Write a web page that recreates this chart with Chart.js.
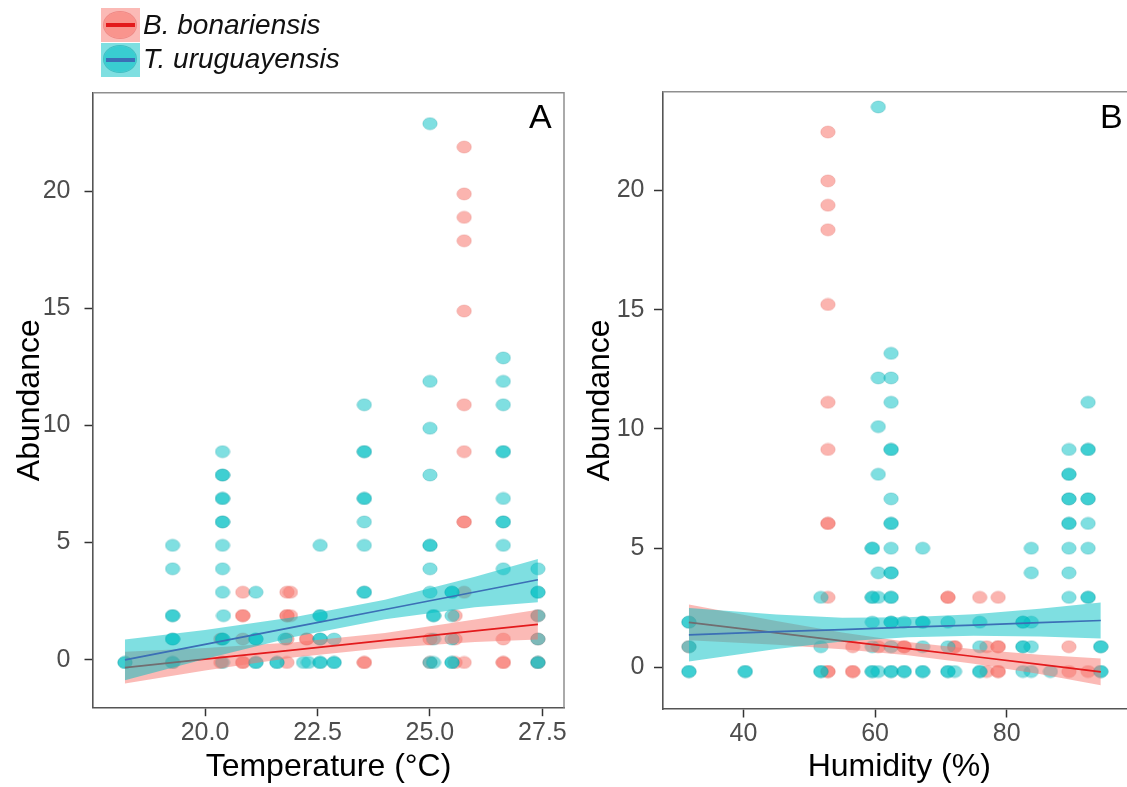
<!DOCTYPE html>
<html>
<head>
<meta charset="utf-8">
<script src="https://cdn.jsdelivr.net/npm/chart.js@4.4.1/dist/chart.umd.min.js"></script>
<style>
html,body{margin:0;padding:0;background:#fff;width:1127px;height:787px;overflow:hidden;position:relative;font-family:"Liberation Sans",Arial,sans-serif}
canvas{position:absolute;top:0}
#cA{left:0}
#cB{left:570px}
.key{position:absolute;left:101px;width:39px;height:34px}
.key .ell{position:absolute;left:3px;top:3.5px;width:32px;height:26px;border-radius:50%}
.key .ln{position:absolute;left:5px;width:29px;top:15px;height:4px}
.lab{position:absolute;left:143px;font-size:28px;font-style:italic;line-height:34px;color:#111;white-space:nowrap}
.panel{position:absolute;font-size:34px;line-height:34px;color:#000}
</style>
</head>
<body>
<canvas id="cA" width="600" height="787"></canvas>
<canvas id="cB" width="600" height="787"></canvas>

<div class="key" style="top:8px;background:rgba(248,118,109,0.5)"><div class="ell" style="background:rgba(248,118,109,0.55);box-shadow:0 0 0 1px rgba(230,90,85,0.5)"></div><div class="ln" style="background:#e31a1c"></div></div>
<div class="lab" style="top:8px">B. bonariensis</div>
<div class="key" style="top:42.5px;background:rgba(0,191,196,0.5)"><div class="ell" style="background:rgba(0,191,196,0.55);box-shadow:0 0 0 1px rgba(0,160,165,0.5)"></div><div class="ln" style="background:#3b6fb6"></div></div>
<div class="lab" style="top:42px">T. uruguayensis</div>

<div class="panel" style="left:529px;top:98.5px">A</div>
<div class="panel" style="left:1100px;top:98.5px">B</div>

<script>
// ---------- DATA ----------
const yTicks = [0, 5, 10, 15, 20];
const xTicksA = [20, 22.5, 25, 27.5];
const xTickLabelsA = ['20.0', '22.5', '25.0', '27.5'];
const xTicksB = [40, 60, 80];
const xTickLabelsB = ['40', '60', '80'];

// Panel A: temperature vs abundance
const redTempA = [20.35, 20.35, 20.84, 20.84, 20.84, 20.84, 20.84, 20.84, 21.82, 21.82, 21.82, 21.82, 21.82, 21.9, 21.9, 22.26, 22.26, 23.54, 23.54, 25.0, 25.0, 25.56, 25.56, 25.56, 25.76, 25.76, 25.76, 25.76, 25.76, 25.76, 25.76, 25.76, 25.76, 25.76, 25.76, 26.63, 26.63, 26.63, 27.4, 27.4, 27.4];
const redAbundA = [0.88, -0.12, 2.88, 1.88, 1.88, 0.88, -0.12, -0.12, 2.88, 1.88, 1.88, 0.88, -0.12, 2.88, 1.88, 0.88, 0.88, -0.12, -0.12, 0.88, -0.12, 1.88, 0.88, -0.12, 21.88, 19.88, 18.88, 17.88, 14.88, 10.88, 8.88, 5.88, 5.88, 2.88, -0.12, 0.88, -0.12, -0.12, 1.88, 0.88, -0.12];

const blueTempA = [18.22, 18.22,
  19.28, 19.28, 19.28, 19.28, 19.28, 19.28, 19.28, 19.28,
  20.39, 20.39, 20.39, 20.39, 20.39, 20.39, 20.39, 20.39, 20.39, 20.39, 20.39, 20.39, 20.39, 20.41,
  21.13, 21.13, 21.13, 21.13, 21.13, 21.6, 21.6, 21.78, 22.19, 22.3,
  22.56, 22.56, 22.56, 22.56, 22.56, 22.56, 22.56, 22.87, 22.87, 22.87,
  23.54, 23.54, 23.54, 23.54, 23.54, 23.54, 23.54, 23.54, 23.54,
  25.0, 25.0, 25.0, 25.0, 25.0, 25.0, 25.0, 25.0, 25.0, 25.08, 25.08, 25.08, 25.08,
  25.49, 25.49, 25.49, 25.49, 25.49, 25.49,
  26.63, 26.63, 26.63, 26.63, 26.63, 26.63, 26.63, 26.63, 26.63, 26.63,
  27.4, 27.4, 27.4, 27.4, 27.4, 27.4, 27.4];
const blueAbundA = [-0.12, -0.12,
  4.88, 3.88, 1.88, 1.88, 0.88, 0.88, -0.12, -0.12,
  8.88, 7.88, 7.88, 6.88, 6.88, 5.88, 5.88, 4.88, 3.88, 2.88, 0.88, 0.88, -0.12, 1.88,
  2.88, 0.88, 0.88, -0.12, -0.12, -0.12, -0.12, 0.88, -0.12, -0.12,
  4.88, 1.88, 1.88, 0.88, 0.88, -0.12, -0.12, 0.88, -0.12, -0.12,
  10.88, 8.88, 8.88, 6.88, 6.88, 5.88, 4.88, 2.88, 2.88,
  22.88, 11.88, 9.88, 7.88, 4.88, 4.88, 3.88, 2.88, -0.12, 1.88, 1.88, 0.88, -0.12,
  2.88, 2.88, 1.88, 0.88, -0.12, -0.12,
  12.88, 11.88, 10.88, 8.88, 8.88, 6.88, 5.88, 5.88, 4.88, 3.88,
  3.88, 2.88, 2.88, 1.88, 0.88, -0.12, -0.12];

// Panel A fitted lines and confidence bands
const fitTempA = [18.22, 20, 22, 24, 26, 27.4];
const redFitA = [-0.34, 0.02, 0.42, 0.82, 1.23, 1.51];
const redUpperA = [0.34, 0.50, 0.74, 1.14, 1.71, 2.13];
const redLowerA = [-1.02, -0.46, 0.10, 0.50, 0.75, 0.86];
const blueFitA = [-0.01, 0.65, 1.40, 2.14, 2.89, 3.41];
const blueUpperA = [0.86, 1.27, 1.82, 2.56, 3.54, 4.30];
const blueLowerA = [-0.88, 0.03, 0.98, 1.72, 2.24, 2.45];

// Panel B: humidity vs abundance
const redHumB = [31.7, 52.83, 52.83, 52.83, 52.83, 52.83, 52.83, 52.83, 52.83, 52.83, 52.83, 52.83, 52.83, 56.6, 56.6, 56.6, 60.48, 64.42, 64.42, 71.06, 71.06, 72.08, 72.08, 75.9, 76.96, 76.96, 78.7, 78.7, 78.7, 78.7, 78.7, 89.45, 89.45, 92.37];
const redAbundB = [0.87, 22.45, 20.4, 19.38, 18.35, 15.22, 11.12, 9.14, 6.04, 6.04, 2.94, -0.17, -0.17, 0.87, -0.17, -0.17, 0.87, 0.87, 0.87, 2.94, 2.94, 0.87, 0.87, 2.94, 0.87, -0.17, 2.94, 0.87, 0.87, -0.17, -0.17, 0.87, -0.17, -0.17];

const blueHumB = [31.7, 31.7, 31.7, 31.7, 31.7, 40.26, 40.26,
  51.75, 51.75, 51.75, 51.75,
  59.57, 59.57, 59.57, 59.57, 59.57, 59.57, 59.57, 59.57,
  60.48, 60.48, 60.48, 60.48, 60.48, 60.48, 60.48,
  62.43, 62.43, 62.43, 62.43, 62.43, 62.43, 62.43, 62.43, 62.43, 62.43, 62.43, 62.43, 62.43, 62.43, 62.43, 62.43, 62.43, 62.43,
  64.42, 64.42, 64.42, 67.23, 67.23, 67.23, 67.23, 67.23, 67.23,
  71.06, 71.06, 71.06, 71.06, 72.08, 75.9, 75.9, 75.9, 75.9,
  82.46, 82.46, 82.46, 82.46, 82.46, 83.74, 83.74, 83.74, 83.74, 83.74, 86.64,
  89.45, 89.45, 89.45, 89.45, 89.45, 89.45, 89.45, 89.45, 89.45, 89.45,
  92.37, 92.37, 92.37, 92.37, 92.37, 92.37, 92.37, 92.37, 92.37,
  94.3, 94.3, 94.3, 94.3];
const blueAbundB = [1.9, 1.9, 0.87, -0.17, -0.17, -0.17, -0.17,
  2.94, 0.87, -0.17, -0.17,
  5.0, 5.0, 2.94, 2.94, 1.9, 0.87, -0.17, -0.17,
  23.5, 12.14, 10.1, 8.1, 3.97, 2.94, -0.17,
  13.17, 12.14, 11.12, 9.14, 9.14, 7.07, 6.04, 6.04, 5.0, 3.97, 3.97, 2.94, 2.94, 1.9, 1.9, 0.87, -0.17, -0.17,
  1.9, -0.17, -0.17, 5.0, 1.9, 1.9, 0.87, -0.17, -0.17,
  1.9, 0.87, -0.17, -0.17, -0.17, 1.9, 0.87, -0.17, -0.17,
  1.9, 1.9, 0.87, 0.87, -0.17, 5.0, 3.97, 1.9, 0.87, -0.17, -0.17,
  9.14, 8.1, 8.1, 7.07, 7.07, 6.04, 6.04, 5.0, 3.97, 2.94,
  11.12, 9.14, 9.14, 7.07, 7.07, 6.04, 5.0, 2.94, 2.94,
  0.87, 0.87, -0.17, -0.17];

// Panel B fitted lines and confidence bands
const fitHumB = [31.7, 45, 55, 65, 75, 85, 94.3];
const redFitB = [1.89, 1.45, 1.12, 0.79, 0.46, 0.13, -0.18];
const redUpperB = [2.64, 1.95, 1.47, 1.07, 0.76, 0.53, 0.38];
const redLowerB = [1.14, 0.95, 0.77, 0.51, 0.16, -0.27, -0.74];
const blueFitB = [1.37, 1.50, 1.59, 1.69, 1.78, 1.88, 1.97];
const blueUpperB = [2.49, 2.22, 2.09, 2.11, 2.23, 2.46, 2.72];
const blueLowerB = [0.25, 0.78, 1.09, 1.27, 1.33, 1.30, 1.22];

// ---------- STYLE / BUILD ----------
const FONT = '"Liberation Sans", Arial, sans-serif';
Chart.defaults.font.family = FONT;

const RED = 'rgba(248,118,109,0.55)';
const BLUE = 'rgba(0,191,196,0.5)';
const RED_BAND = 'rgba(248,118,109,0.5)';
const BLUE_BAND = 'rgba(0,191,196,0.5)';
const RED_LINE = '#e31a1c';
const BLUE_LINE = '#3b6fb6';

function ellipse(color, rim) {
  const c = document.createElement('canvas');
  c.width = 16; c.height = 14;
  const g = c.getContext('2d');
  g.fillStyle = color;
  g.beginPath(); g.ellipse(8, 7, 7.2, 6, 0, 0, Math.PI * 2); g.fill();
  g.strokeStyle = rim; g.lineWidth = 0.8; g.stroke();
  return c;
}
const redDot = ellipse(RED, 'rgba(220,90,85,0.35)');
const blueDot = ellipse(BLUE, 'rgba(0,150,155,0.35)');

const pts = (xs, ys) => xs.map((x, i) => ({ x: x, y: ys[i] }));

const framePlugin = {
  id: 'frame',
  afterDatasetsDraw(chart) {
    const { ctx, chartArea: a } = chart;
    ctx.save();
    ctx.strokeStyle = '#8f8f8f';
    ctx.lineWidth = 1.5;
    ctx.beginPath();
    ctx.moveTo(a.left, a.top);
    ctx.lineTo(a.right, a.top);
    ctx.lineTo(a.right, a.bottom);
    ctx.stroke();
    ctx.restore();
  }
};

function makeChart(id, p) {
  const datasets = [
    { data: pts(p.redX, p.redY), pointStyle: redDot, pointRadius: 7, order: 6 },
    { data: pts(p.blueX, p.blueY), pointStyle: blueDot, pointRadius: 7, order: 5 },
    { data: pts(p.fitX, p.redUp), showLine: true, borderWidth: 0, pointRadius: 0, fill: '+1', backgroundColor: RED_BAND, order: 4 },
    { data: pts(p.fitX, p.redLo), showLine: true, borderWidth: 0, pointRadius: 0, fill: false, order: 4 },
    { data: pts(p.fitX, p.redFit), showLine: true, borderWidth: 1.7, borderColor: RED_LINE, pointRadius: 0, order: 3 },
    { data: pts(p.fitX, p.blueUp), showLine: true, borderWidth: 0, pointRadius: 0, fill: '+1', backgroundColor: BLUE_BAND, order: 2 },
    { data: pts(p.fitX, p.blueLo), showLine: true, borderWidth: 0, pointRadius: 0, fill: false, order: 2 },
    { data: pts(p.fitX, p.blueFit), showLine: true, borderWidth: 1.7, borderColor: BLUE_LINE, pointRadius: 0, order: 1 }
  ];
  return new Chart(document.getElementById(id), {
    type: 'scatter',
    data: { datasets: datasets },
    plugins: [framePlugin],
    options: {
      responsive: false,
      animation: false,
      devicePixelRatio: 1,
      events: [],
      layout: { padding: { top: p.padTop, right: p.padRight, left: 0, bottom: 0 } },
      plugins: { legend: { display: false }, tooltip: { enabled: false } },
      scales: {
        x: {
          type: 'linear', min: p.xMin, max: p.xMax,
          afterBuildTicks: s => { s.ticks = p.xTicks.map(v => ({ value: v })); },
          afterFit: s => { s.height = p.xAxisH; },
          ticks: { color: '#4d4d4d', font: { size: 25 }, padding: p.xTickPad, autoSkip: false, maxRotation: 0,
                   callback: (v, i) => p.xLabels[i] },
          grid: { drawOnChartArea: false, drawTicks: true, tickLength: 8.5, tickColor: '#333', tickWidth: 1.5 },
          border: { display: true, color: '#555', width: 1.6 },
          title: { display: true, text: p.xTitle, color: '#000', font: { size: 32 }, padding: { top: 0, bottom: 1 } }
        },
        y: {
          type: 'linear', min: p.yMin, max: p.yMax,
          afterBuildTicks: s => { s.ticks = yTicks.map(v => ({ value: v })); },
          afterFit: s => { s.width = p.yAxisW; },
          ticks: { color: '#4d4d4d', font: { size: 25 }, padding: p.yTickPad, autoSkip: false },
          grid: { drawOnChartArea: false, drawTicks: true, tickLength: 8.5, tickColor: '#333', tickWidth: 1.5 },
          border: { display: true, color: '#555', width: 1.6 },
          title: { display: true, text: 'Abundance', color: '#000', font: { size: 32 }, padding: { top: 11, bottom: 0 } }
        }
      }
    }
  });
}

makeChart('cA', {
  redX: redTempA, redY: redAbundA, blueX: blueTempA, blueY: blueAbundA,
  fitX: fitTempA, redFit: redFitA, redUp: redUpperA, redLo: redLowerA,
  blueFit: blueFitA, blueUp: blueUpperA, blueLo: blueLowerA,
  xMin: 17.51, xMax: 27.98, yMin: -2.05, yMax: 24.2,
  xTicks: xTicksA, xLabels: xTickLabelsA, xTitle: 'Temperature (°C)',
  padTop: 92.7, padRight: 36, xAxisH: 79.3, yAxisW: 93, xTickPad: 2, yTickPad: 14
});

makeChart('cB', {
  redX: redHumB, redY: redAbundB, blueX: blueHumB, blueY: blueAbundB,
  fitX: fitHumB, redFit: redFitB, redUp: redUpperB, redLo: redLowerB,
  blueFit: blueFitB, blueUp: blueUpperB, blueLo: blueLowerB,
  xMin: 27.69, xMax: 99.65, yMin: -1.74, yMax: 24.14,
  xTicks: xTicksB, xLabels: xTickLabelsB, xTitle: 'Humidity (%)',
  padTop: 91.7, padRight: 34, xAxisH: 78, yAxisW: 92.5, xTickPad: 1.5, yTickPad: 9.5
});
</script>
</body>
</html>
